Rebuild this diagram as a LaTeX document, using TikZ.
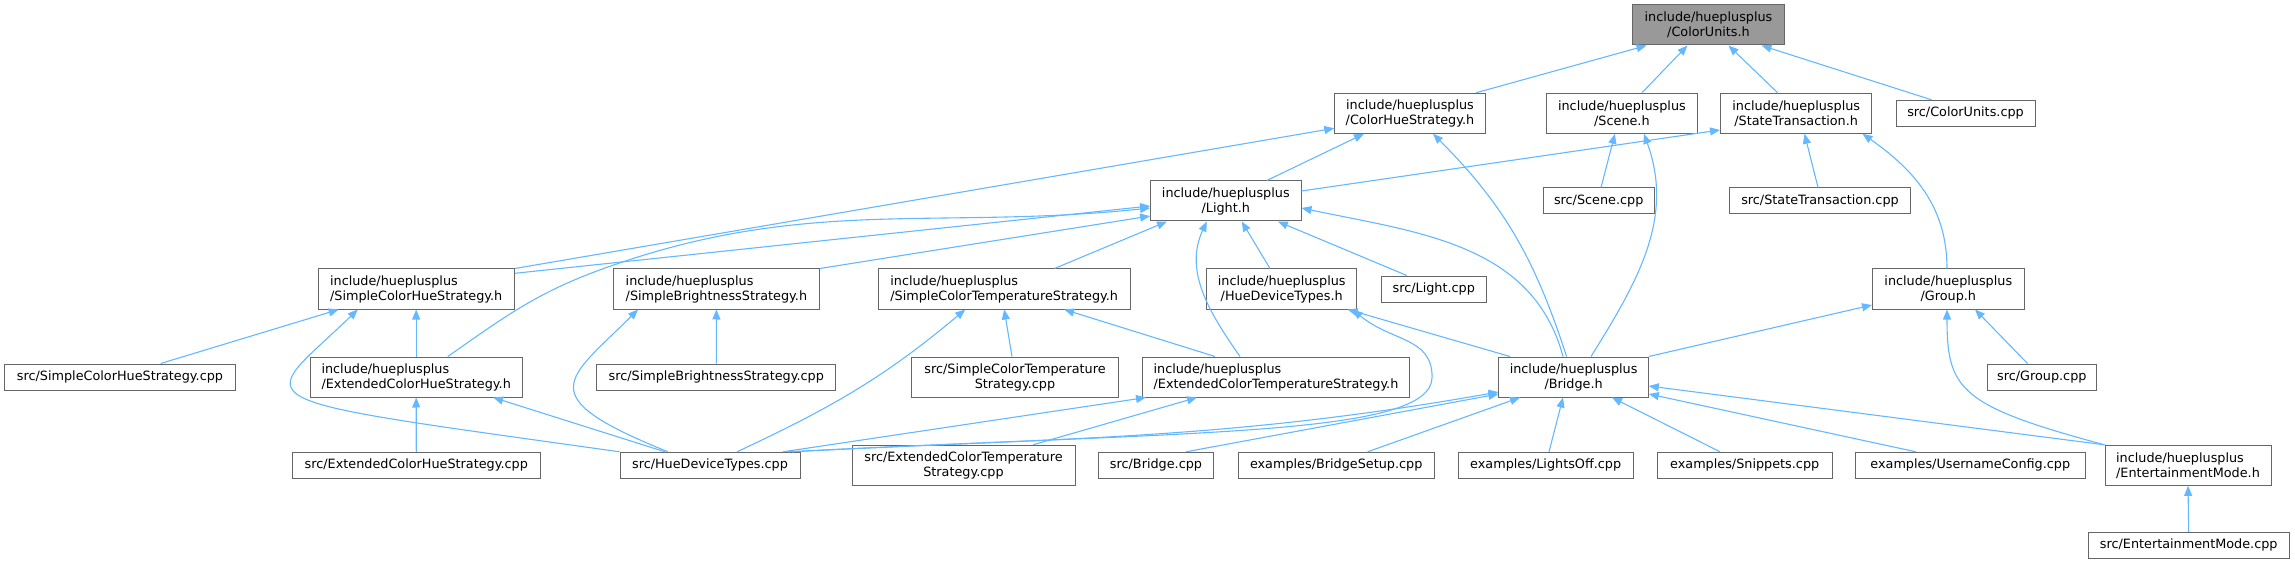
\documentclass[tikz,border=0pt]{standalone}
\usepackage{fontspec}
\setmainfont{DejaVu Sans}
\usepackage{tikz}
\usetikzlibrary{arrows.meta,calc}
\definecolor{edgeblue}{HTML}{63B8FF}
\definecolor{boxgray}{HTML}{666666}
\definecolor{topgray}{HTML}{999999}

\begin{document}
\begin{tikzpicture}[x=1pt,y=1pt, every node/.style={font=\fontsize{12.8}{15}\selectfont}, box/.style={draw=boxgray,fill=white,line width=1pt,inner xsep=4pt,inner ysep=0pt,minimum height=26}, two/.style={box,minimum height=40,align=center}, dep/.style={edgeblue,line width=1.1pt,-{Triangle[length=10pt,width=8pt]}}]
\useasboundingbox (0,0) rectangle (2295,-564);
\node[two,fill=topgray,minimum width=152] (cu) at (1708.5,-25) {include/hueplusplus\\/ColorUnits.h};
\node[two,minimum width=150.5] (chs) at (1410,-113.3) {include/hueplusplus\\/ColorHueStrategy.h};
\node[two,minimum width=151] (scn) at (1621.9,-113.3) {include/hueplusplus\\/Scene.h};
\node[two,minimum width=151.4] (st) at (1796.2,-113.3) {include/hueplusplus\\/StateTransaction.h};
\node[box,minimum width=139] (cucpp) at (1965.5,-113.3) {src/ColorUnits.cpp};
\node[two,minimum width=150.4] (light) at (1225.8,-201) {include/hueplusplus\\/Light.h};
\node[box,minimum width=110.7] (scenecpp) at (1598.7,-201) {src/Scene.cpp};
\node[box,minimum width=180.4] (stcpp) at (1820,-201) {src/StateTransaction.cpp};
\node[two,align=left,minimum width=196.4] (schs) at (416.2,-289) {include/hueplusplus\\/SimpleColorHueStrategy.h};
\node[two,align=left,minimum width=205.8] (sbs) at (716.4,-289) {include/hueplusplus\\/SimpleBrightnessStrategy.h};
\node[two,align=left,minimum width=252.4] (scts) at (1004.2,-289) {include/hueplusplus\\/SimpleColorTemperatureStrategy.h};
\node[two,minimum width=150] (hdt) at (1281.7,-289) {include/hueplusplus\\/HueDeviceTypes.h};
\node[box,minimum width=104.6] (lightcpp) at (1433.8,-289) {src/Light.cpp};
\node[two,minimum width=151.6] (group) at (1948.3,-289) {include/hueplusplus\\/Group.h};
\node[box,minimum width=230.8] (schscpp) at (120,-377) {src/SimpleColorHueStrategy.cpp};
\node[two,align=left,minimum width=212.4] (echs) at (416.2,-377) {include/hueplusplus\\/ExtendedColorHueStrategy.h};
\node[box,minimum width=238.8] (sbscpp) at (716.3,-377) {src/SimpleBrightnessStrategy.cpp};
\node[two,minimum width=206.8] (sctscpp) at (1015,-377) {src/SimpleColorTemperature\\Strategy.cpp};
\node[two,align=left,minimum width=267.2] (ects) at (1276,-377) {include/hueplusplus\\/ExtendedColorTemperatureStrategy.h};
\node[two,minimum width=149.4] (bridge) at (1573.6,-377) {include/hueplusplus\\/Bridge.h};
\node[box,minimum width=109.6] (groupcpp) at (2041.8,-377) {src/Group.cpp};
\node[box,minimum width=247.4] (echscpp) at (416.3,-465.3) {src/ExtendedColorHueStrategy.cpp};
\node[box,minimum width=180] (hdtcpp) at (710,-465.3) {src/HueDeviceTypes.cpp};
\node[two,minimum width=223] (ectscpp) at (963.5,-465.3) {src/ExtendedColorTemperature\\Strategy.cpp};
\node[box,minimum width=114.4] (bridgecpp) at (1156,-465.3) {src/Bridge.cpp};
\node[box,minimum width=195.6] (bsetup) at (1336.2,-465.3) {examples/BridgeSetup.cpp};
\node[box,minimum width=174.6] (lightsoff) at (1545.7,-465.3) {examples/LightsOff.cpp};
\node[box,minimum width=174.6] (snippets) at (1744.7,-465.3) {examples/Snippets.cpp};
\node[box,minimum width=230.6] (username) at (1970.3,-465.3) {examples/UsernameConfig.cpp};
\node[two,align=left,minimum width=166] (ent) at (2188,-465.3) {include/hueplusplus\\/EntertainmentMode.h};
\node[box,minimum width=201.4] (entcpp) at (2188.7,-545.3) {src/EntertainmentMode.cpp};
\coordinate (bendl) at ($(sbs.north west)+(-12,-1)$);
\coordinate (bendh) at ($(ects.east)+(22,0)$);
\draw[dep] ($(chs.north)+(66,0)$) -- ($(cu.south)+(-62,0)$);
\draw[dep] ($(scn.north)+(20,0)$) -- ($(cu.south)+(-21,0)$);
\draw[dep] ($(st.north)+(-18.5,0)$) -- ($(cu.south)+(20,0)$);
\draw[dep] ($(cucpp.north)+(-34,0)$) -- ($(cu.south)+(53,0)$);
\draw[dep] ($(light.north)+(41,0)$) -- ($(chs.south)+(-46,0)$);
\draw[dep] (schs.north east) -- ($(chs.west)+(0,-15)$);
\draw[dep] ($(bridge.north)+(-7,0)$) to[out=108,in=-45] ($(chs.south)+(23,0)$);
\draw[dep] ($(scenecpp.north)+(2.3,0)$) -- ($(scn.south)+(-7,0)$);
\draw[dep] ($(bridge.north)+(17.4,0)$) to[out=58,in=-70] ($(scn.south)+(22,0)$);
\draw[dep] ($(light.east)+(0,10)$) -- ($(st.west)+(0,-16.7)$);
\draw[dep] ($(stcpp.north)+(-2,0)$) -- ($(st.south)+(8.3,0)$);
\draw[dep] ($(group.north)+(-1.3,0)$) to[out=90,in=-35] ($(st.south)+(66.3,0)$);
\draw[dep] ($(schs.east)+(0,15.7)$) -- ($(light.west)+(0,-5)$);
\draw[dep] ($(echs.north)+(31.6,0)$) to[out=35,in=200] (bendl) to[out=20,in=186] ($(light.west)+(0,-7)$);
\draw[dep] (sbs.north east) -- ($(light.west)+(0,-15)$);
\draw[dep] ($(scts.north)+(50.3,0)$) -- ($(light.south)+(-58.8,0)$);
\draw[dep] ($(ects.north)+(-36,0)$) to[out=125,in=-115] ($(light.south)+(-19,0)$);
\draw[dep] ($(hdt.north)+(-11.7,0)$) -- ($(light.south)+(15.9,0)$);
\draw[dep] ($(lightcpp.north)+(-27,0)$) -- ($(light.south)+(52,0)$);
\draw[dep] ($(bridge.north)+(-10.6,0)$) to[out=105,in=-12] ($(light.east)+(0,-7)$);
\draw[dep] ($(schscpp.north)+(40.7,0)$) -- ($(schs.south)+(-77.5,0)$);
\draw[dep] (echs.north) -- (schs.south);
\draw[dep] (hdtcpp.north west) .. controls +(172:400) and +(224:140) .. ($(schs.south)+(-58.4,0)$);
\draw[dep] (echscpp.north) -- (echs.south);
\draw[dep] ($(hdtcpp.north)+(-45,0)$) -- ($(echs.south)+(77,0)$);
\draw[dep] (sbscpp.north) -- (sbs.south);
\draw[dep] ($(hdtcpp.north)+(-42,0)$) .. controls +(158:150) and +(225:100) .. ($(sbs.south)+(-78.4,0)$);
\draw[dep] ($(sctscpp.north)+(-3,0)$) -- (scts.south);
\draw[dep] ($(hdtcpp.north)+(27,0)$) to[out=25,in=-140] ($(scts.south)+(-39,0)$);
\draw[dep] ($(ects.north)+(-61,0)$) -- ($(scts.south)+(60,0)$);
\draw[dep] ($(hdtcpp.north)+(73,0)$) -- ($(ects.south)+(-130,0)$);
\draw[dep] ($(ectscpp.north)+(69.5,0)$) -- ($(ects.south)+(-79,0)$);
\draw[dep] ($(bridge.north)+(-63.6,0)$) -- ($(hdt.south)+(66,0)$);
\draw[dep] ($(hdtcpp.north)+(78,0)$) .. controls +(3:400) and +(-90:60) .. (bendh) .. controls +(90:40) and +(-40:50) .. ($(hdt.south)+(71,0)$);
\draw[dep] ($(groupcpp.north)+(-14.3,0)$) -- ($(group.south)+(26.7,0)$);
\draw[dep] (bridge.north east) -- ($(group.west)+(0,-16)$);
\draw[dep] (ent.north west) .. controls +(165:150) and +(-90:80) .. ($(group.south)+(-1.3,0)$);
\draw[dep] (entcpp.north) -- (ent.south);
\draw[dep] ($(hdtcpp.north)+(82,0)$) to[out=3,in=190] ($(bridge.west)+(0,-15)$);
\draw[dep] ($(bridgecpp.north)+(30,0)$) -- ($(bridge.west)+(0,-17)$);
\draw[dep] ($(bsetup.north)+(31.4,0)$) -- ($(bridge.south)+(-53.6,0)$);
\draw[dep] ($(lightsoff.north)+(3.3,0)$) -- ($(bridge.south)+(-10.6,0)$);
\draw[dep] ($(snippets.north)+(-24.7,0)$) -- ($(bridge.south)+(38.4,0)$);
\draw[dep] ($(username.north)+(-54.5,0)$) -- ($(bridge.east)+(0,-17)$);
\draw[dep] (ent.north west) -- ($(bridge.east)+(0,-9)$);
\end{tikzpicture}
\end{document}
